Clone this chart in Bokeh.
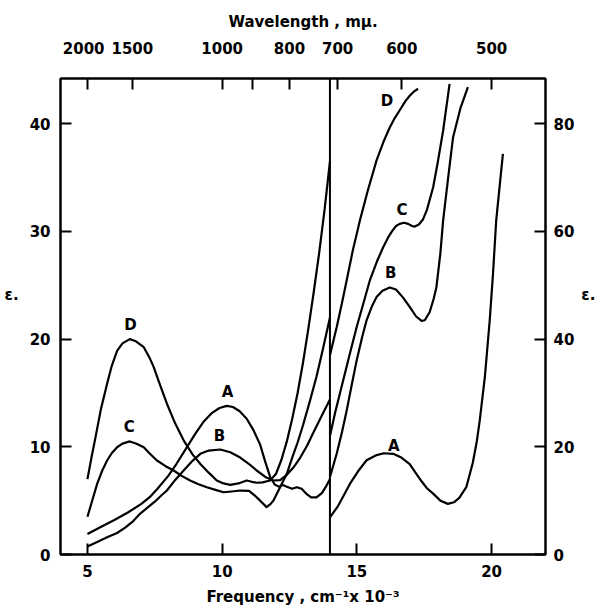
from bokeh.plotting import figure
from bokeh.models import Range1d, LinearAxis, FixedTicker, Span, ColumnDataSource
from bokeh.core.properties import value
from bokeh.embed import file_html
from bokeh.resources import INLINE

# ---------------- data (frequency in cm^-1 x 10^-3, epsilon) ----------------
# left panel (left axis, 0-44)
a_left_x = [5.0, 5.3, 5.6, 6.0, 6.5, 7.0, 7.3, 7.6, 8.0, 8.3, 8.6, 9.0, 9.3, 9.6, 9.9, 10.17, 10.4, 10.65, 10.91,
            11.15, 11.41, 11.6, 11.78, 11.95, 12.1, 12.25, 12.4, 12.6, 12.77, 12.95, 13.14, 13.3, 13.5, 13.7, 13.85, 14.0]
a_left_y = [1.9, 2.3, 2.7, 3.2, 3.9, 4.7, 5.3, 6.1, 7.3, 8.4, 9.6, 11.2, 12.3, 13.1, 13.6, 13.8, 13.7, 13.3, 12.6,
            11.6, 10.2, 8.6, 7.2, 6.5, 6.3, 6.45, 6.3, 6.1, 6.25, 6.1, 5.6, 5.3, 5.3, 5.7, 6.3, 7.0]

b_left_x = [5.0, 5.4, 5.73, 6.1, 6.4, 6.7, 6.96, 7.25, 7.5, 7.75, 7.95, 8.25, 8.57, 8.9, 9.19, 9.5, 9.93, 10.3,
            10.67, 11.0, 11.28, 11.6, 11.9, 12.15, 12.4, 12.65, 12.9, 13.15, 13.4, 13.7, 14.0]
b_left_y = [0.75, 1.2, 1.6, 2.0, 2.5, 3.1, 3.8, 4.4, 4.9, 5.5, 5.94, 6.9, 7.8, 8.7, 9.35, 9.65, 9.75, 9.5,
            9.0, 8.4, 7.8, 7.2, 6.87, 6.9, 7.4, 8.1, 9.0, 10.1, 11.4, 12.9, 14.4]

c_left_x = [5.0, 5.2, 5.36, 5.55, 5.73, 5.9, 6.1, 6.3, 6.57, 6.8, 7.09, 7.3, 7.58, 7.9, 8.2, 8.5, 8.81, 9.1, 9.43,
            9.75, 10.05, 10.35, 10.67, 11.0, 11.2, 11.41, 11.65, 11.8, 11.9, 12.15, 12.4, 12.6, 12.8, 13.0, 13.25,
            13.5, 13.75, 14.0]
c_left_y = [3.5, 5.2, 6.56, 7.8, 8.73, 9.4, 9.96, 10.3, 10.5, 10.3, 9.96, 9.4, 8.73, 8.2, 7.8, 7.3, 6.87, 6.55, 6.25,
            6.0, 5.78, 5.85, 5.94, 5.9, 5.5, 5.0, 4.4, 4.7, 5.0, 6.25, 7.5, 9.0, 10.4, 12.0, 14.2,
            16.5, 19.2, 22.0]

d_left_x = [5.0, 5.15, 5.3, 5.5, 5.73, 5.9, 6.1, 6.3, 6.57, 6.8, 7.09, 7.3, 7.46, 7.7, 7.95, 8.25, 8.57, 8.9, 9.19,
            9.5, 9.8, 10.05, 10.3, 10.6, 10.91, 11.1, 11.28, 11.5, 11.78, 12.0, 12.2, 12.4, 12.6, 12.8, 13.0, 13.2,
            13.4, 13.6, 13.8, 14.0]
d_left_y = [7.0, 9.0, 10.9, 13.5, 15.85, 17.5, 18.9, 19.6, 20.0, 19.8, 19.25, 18.3, 17.4, 15.7, 14.0, 12.2, 10.6, 9.3, 8.4,
            7.6, 6.87, 6.6, 6.47, 6.6, 6.87, 6.75, 6.66, 6.7, 6.87, 7.5, 8.8, 10.5, 12.6, 15.0, 17.8, 21.0,
            24.4, 28.0, 32.0, 36.5]

# right panel (right axis, 0-88)
a_right_x = [14.0, 14.3, 14.74, 15.05, 15.36, 15.7, 16.0, 16.35, 16.65, 16.96, 17.2, 17.4, 17.6, 17.83, 18.1, 18.38,
             18.6, 18.8, 19.06, 19.3, 19.45, 19.56, 19.75, 19.93, 20.05, 20.17, 20.3, 20.42]
a_right_y = [6.9, 9.0, 13.1, 15.5, 17.5, 18.4, 18.8, 18.7, 18.0, 16.8, 15.0, 13.6, 12.3, 11.3, 10.0, 9.4,
             9.7, 10.5, 12.5, 17.0, 21.0, 24.9, 33.0, 43.5, 52.0, 62.0, 68.5, 74.4]

b_right_x = [14.0, 14.25, 14.45, 14.62, 14.8, 14.99, 15.2, 15.36, 15.55, 15.73, 15.95, 16.22, 16.45, 16.7, 16.96,
             17.2, 17.4, 17.52, 17.7, 17.85, 17.95, 18.1, 18.2, 18.4, 18.57, 18.85, 19.12]
b_right_y = [14.4, 18.7, 22.8, 26.7, 31.3, 36.0, 40.5, 43.5, 46.0, 47.8, 49.0, 49.6, 49.2, 47.8, 46.0,
             44.2, 43.4, 43.5, 45.0, 47.5, 49.6, 56.0, 62.0, 70.5, 77.5, 83.0, 86.8]

c_right_x = [14.0, 14.2, 14.49, 14.75, 14.99, 15.25, 15.48, 15.75, 15.98, 16.15, 16.3, 16.45, 16.59, 16.75, 16.9,
             17.05, 17.15, 17.3, 17.45, 17.6, 17.83, 18.0, 18.2, 18.44]
c_right_y = [22.0, 26.5, 32.3, 37.5, 42.2, 46.8, 50.9, 54.5, 57.1, 58.8, 60.0, 61.0, 61.4, 61.6, 61.4,
             61.0, 60.9, 61.3, 62.2, 64.0, 68.2, 72.8, 78.7, 87.4]

d_right_x = [14.0, 14.12, 14.25, 14.45, 14.62, 14.85, 15.11, 15.4, 15.73, 16.0, 16.22, 16.4, 16.59, 16.8, 16.96,
             17.1, 17.27]
d_right_y = [37.0, 39.5, 42.2, 46.8, 50.9, 56.5, 62.0, 67.5, 73.2, 76.8, 79.3, 81.0, 82.5, 84.2, 85.2,
             85.9, 86.5]

# curve labels
left_label_text = ["D", "C", "A", "B"]
left_label_x = [6.6, 6.55, 10.2, 9.9]
left_label_y = [21.3, 11.8, 15.1, 11.0]
right_label_text = ["D", "C", "B", "A"]
right_label_x = [16.12, 16.67, 16.26, 16.37]
right_label_y = [84.3, 64.0, 52.2, 20.2]

# axis ticks
freq_ticks = [5, 10, 15, 20]
left_ticks = [0, 10, 20, 30, 40]
right_ticks = [0, 20, 40, 60, 80]
wavelengths = [2000, 1500, 1000, 900, 800, 700, 600, 500]
wavelength_labels = ["2000\u2002", "1500", "1000", "", "800", "700", "600", "500"]

FONT = "DejaVu Sans"
FS = "15px"

p = figure(width=601, height=611, output_backend="svg", toolbar_location=None,
           x_range=Range1d(4, 22), y_range=Range1d(0, 44.2),
           min_border_left=60, min_border_right=56, min_border_top=78, min_border_bottom=57,
           x_axis_location=None, y_axis_location=None)
p.extra_y_ranges = {"right": Range1d(0, 88.4)}
p.grid.visible = False
p.outline_line_color = "black"
p.outline_line_width = 2
p.background_fill_color = "white"
p.border_fill_color = "white"


def style_axis(ax, label, ticks, overrides=None, horiz=False, ls=10, als=10):
    ax.ticker = FixedTicker(ticks=ticks)
    ax.axis_label = label
    ax.axis_label_text_font = FONT
    ax.axis_label_text_font_size = FS
    ax.axis_label_text_font_style = "bold"
    ax.axis_label_text_color = "black"
    ax.major_label_text_font = FONT
    ax.major_label_text_font_size = FS
    ax.major_label_text_font_style = "bold"
    ax.major_label_text_color = "black"
    ax.major_tick_in = 11
    ax.major_tick_out = 0
    ax.major_tick_line_width = 2
    ax.major_tick_line_color = "black"
    ax.minor_tick_line_color = None
    ax.axis_line_width = 2
    ax.axis_line_color = "black"
    ax.major_label_standoff = ls
    ax.axis_label_standoff = als
    if overrides:
        ax.major_label_overrides = overrides
    if horiz:
        ax.axis_label_orientation = "horizontal"
        ax.major_label_orientation = "horizontal"


bottom = LinearAxis()
style_axis(bottom, "Frequency , cm\u207b\u00b9x 10\u207b\u00b3", freq_ticks, ls=10, als=8)
p.add_layout(bottom, "below")

top = LinearAxis()
top_ticks = [1e4 / w for w in wavelengths]
style_axis(top, "Wavelength , m\u03bc.", top_ticks,
           overrides={t: lab for t, lab in zip(top_ticks, wavelength_labels)}, ls=21, als=6)
p.add_layout(top, "above")

left = LinearAxis()
style_axis(left, "\u03b5.\n\n", left_ticks, horiz=True, ls=10, als=8)
p.add_layout(left, "left")

right = LinearAxis(y_range_name="right")
style_axis(right, "\u03b5.\n\n", right_ticks, horiz=True, ls=8, als=4)
p.add_layout(right, "right")

p.add_layout(Span(location=14, dimension="height", line_color="black", line_width=2))

LW = 2.2
for xs, ys in [(a_left_x, a_left_y), (b_left_x, b_left_y), (c_left_x, c_left_y), (d_left_x, d_left_y)]:
    p.line(xs, ys, line_color="black", line_width=LW, line_join="round")
for xs, ys in [(a_right_x, a_right_y), (b_right_x, b_right_y), (c_right_x, c_right_y), (d_right_x, d_right_y)]:
    p.line(xs, ys, line_color="black", line_width=LW, line_join="round", y_range_name="right")

src_l = ColumnDataSource(dict(x=left_label_x, y=left_label_y, t=left_label_text))
src_r = ColumnDataSource(dict(x=right_label_x, y=right_label_y, t=right_label_text))
for src, rng in [(src_l, "default"), (src_r, "right")]:
    p.text(x="x", y="y", text="t", source=src, y_range_name=rng,
           text_font=value(FONT), text_font_size=FS, text_font_style="bold",
           text_align="center", text_baseline="middle", text_color="black")

open("out.html", "w").write(file_html(p, INLINE))
